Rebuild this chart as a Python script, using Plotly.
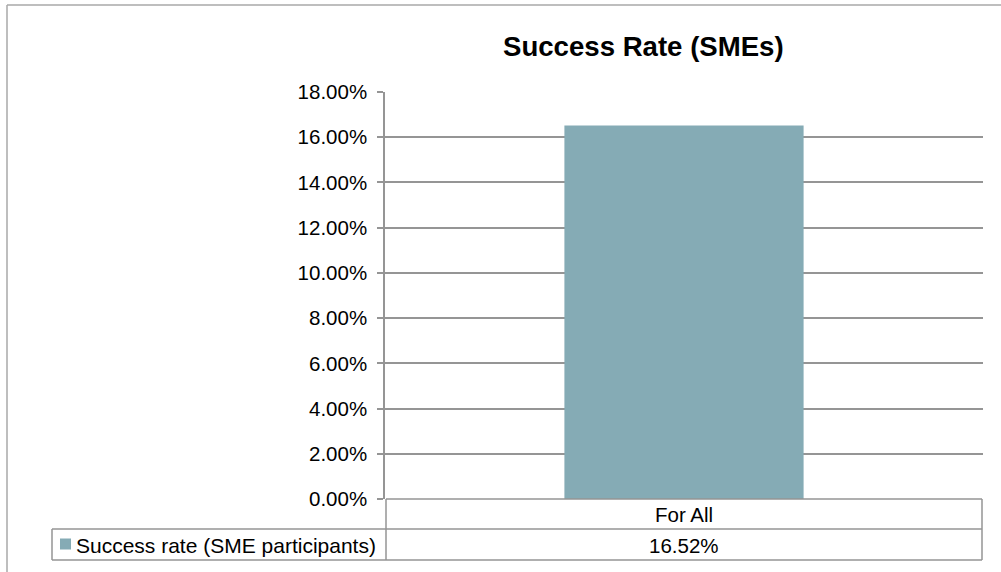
import plotly.graph_objects as go

# ---- data ----
categories = ["For All"]
values = [0.1652]
series_name = "Success rate (SME participants)"
chart_title = "Success Rate (SMEs)"
y_ticks = [0.0, 0.02, 0.04, 0.06, 0.08, 0.10, 0.12, 0.14, 0.16, 0.18]

# ---- layout geometry (pixels) ----
W, H = 1001, 572
PL, PR, PT, PB = 385, 983, 92, 499  # plot area
pw, ph = PR - PL, PB - PT


def px(x):
    return (x - PL) / pw


def py(y):
    return (PB - y) / ph


FONT = "Liberation Sans, Arial, sans-serif"
BAR_COLOR = "#85abb5"
LINE = "#959595"
FS = 20.5

fig = go.Figure()
fig.add_trace(go.Bar(
    x=categories, y=values, name=series_name,
    marker=dict(color=BAR_COLOR, line=dict(width=0)),
    width=0.4, showlegend=False,
))

shapes = []
# outer chart frame (left and top edges visible)
shapes.append(dict(type="line", xref="paper", yref="paper",
                   x0=px(7), x1=px(1010), y0=py(5), y1=py(5),
                   line=dict(color="#a9a9a9", width=1.5)))
shapes.append(dict(type="line", xref="paper", yref="paper",
                   x0=px(7), x1=px(7), y0=py(5), y1=py(580),
                   line=dict(color="#a9a9a9", width=1.5)))

# data table
row1_top, row1_bot, row2_bot = 499, 529, 560
tbl_left_legend = 52
tbl_right = 982
for (x0, y0, x1, y1) in [
    (PL + 1, row1_top, tbl_right, row1_top),      # top line
    (tbl_left_legend, row1_bot, tbl_right, row1_bot),  # middle
    (tbl_left_legend, row2_bot, tbl_right, row2_bot),  # bottom
    (PL + 1, row1_top, PL + 1, row2_bot),          # axis divider
    (tbl_right, row1_top, tbl_right, row2_bot),    # right edge
    (tbl_left_legend, row1_bot, tbl_left_legend, row2_bot),  # left edge legend cell
]:
    shapes.append(dict(type="line", xref="paper", yref="paper",
                       x0=px(x0), x1=px(x1), y0=py(y0), y1=py(y1),
                       line=dict(color=LINE, width=1.5)))

# legend key square
shapes.append(dict(type="rect", xref="paper", yref="paper",
                   x0=px(60), x1=px(71), y0=py(538.5), y1=py(549.5),
                   fillcolor=BAR_COLOR, line=dict(width=0)))

annotations = []
annotations.append(dict(text=f"<b>{chart_title}</b>", xref="paper", yref="paper",
                        x=px(643), y=py(47), showarrow=False,
                        xanchor="center", yanchor="middle",
                        font=dict(family=FONT, size=27.6, color="#000000")))
for i, c in enumerate(categories):
    cx = px(PL + pw * (i + 0.5) / len(categories))
    annotations.append(dict(text=c, xref="paper", yref="paper", x=cx, y=py(514),
                            showarrow=False, xanchor="center", yanchor="middle",
                            font=dict(family=FONT, size=FS, color="#000000")))
    annotations.append(dict(text=f"{values[i]*100:.2f}%", xref="paper", yref="paper",
                            x=cx, y=py(545), showarrow=False,
                            xanchor="center", yanchor="middle",
                            font=dict(family=FONT, size=FS, color="#000000")))
annotations.append(dict(text=series_name, xref="paper", yref="paper",
                        x=px(74), y=py(545), showarrow=False,
                        xanchor="left", yanchor="middle",
                        font=dict(family=FONT, size=21, color="#000000")))

fig.update_layout(
    width=W, height=H,
    margin=dict(l=PL, r=W - PR, t=PT, b=H - PB, pad=0),
    paper_bgcolor="white", plot_bgcolor="white",
    shapes=shapes, annotations=annotations,
    showlegend=False,
    xaxis=dict(type="category", range=[-0.5, len(categories) - 0.5],
               showticklabels=False, showgrid=False, zeroline=False,
               showline=False, ticks=""),
    yaxis=dict(range=[0, 0.18], tickvals=y_ticks, tickformat=".2%",
               showgrid=True, gridcolor=LINE, gridwidth=1.5,
               showline=True, linecolor=LINE, linewidth=1.5,
               ticks="outside", ticklen=6, tickcolor=LINE, tickwidth=1.5,
               ticklabelstandoff=6, zeroline=False,
               tickfont=dict(family=FONT, size=FS, color="#000000")),
)

fig.write_html("out.html", config={"displayModeBar": False},
               post_script="document.body.style.margin='0';document.body.style.overflow='hidden';")
